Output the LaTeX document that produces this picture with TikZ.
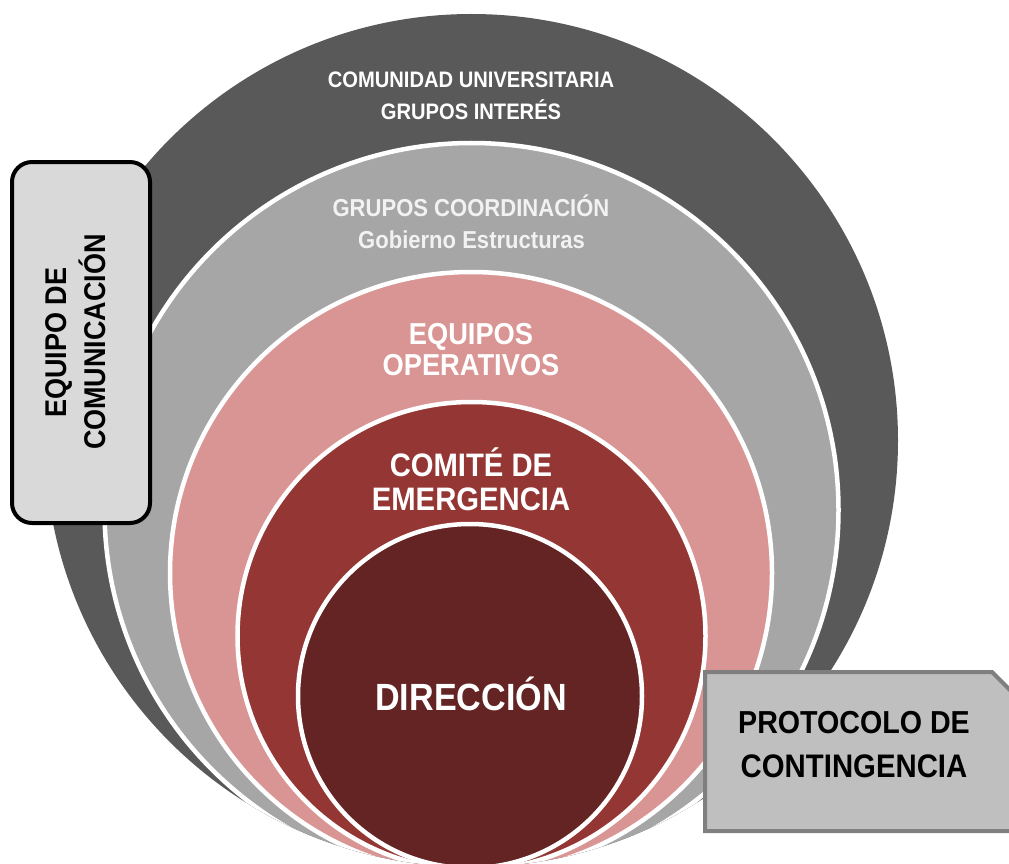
\documentclass[tikz,border=0pt]{standalone}
\usepackage{fontspec}
\setmainfont{Liberation Sans}[FakeStretch=0.9]
\definecolor{ringA}{HTML}{595959}
\definecolor{ringB}{HTML}{A6A6A6}
\definecolor{ringC}{HTML}{D99594}
\definecolor{ringD}{HTML}{943634}
\definecolor{ringE}{HTML}{632423}
\definecolor{boxL}{HTML}{D9D9D9}
\definecolor{boxR}{HTML}{BFBFBF}
\definecolor{boxRline}{HTML}{7F7F7F}
\newcommand\fsz[1]{\fontsize{#1}{#1}\selectfont\bfseries}
\begin{document}
\begin{tikzpicture}[x=1pt,y=-1pt,
  ring/.style={circle, inner sep=0pt, outer sep=0pt, draw=white, line width=4.5pt},
  lbl/.style={anchor=base, inner sep=0pt, text=white},
  blbl/.style={anchor=base, inner sep=0pt, text=black}]
\useasboundingbox (0,0) rectangle (1009,864);
\clip (0,0) rectangle (1009,864);
% outer ring
\node[circle, inner sep=0pt, fill=ringA, minimum size=853pt] (r1) at (471.5,440.5) {};
\begin{scope}
\clip (471.5,440.5) circle[radius=426.5pt];
\node[ring, fill=ringB, minimum size=734pt] (r2) at (471.5,510) {};
\node[ring, fill=ringC, minimum size=602pt] (r3) at (471,573) {};
\node[ring, fill=ringD, minimum size=468pt] (r4) at (471.5,636) {};
\node[ring, fill=ringE, minimum size=344pt] (r5) at (470,696) {};
\end{scope}
% ring labels
\node[lbl, font=\fsz{22.4}] (t1) at (471,88) {COMUNIDAD UNIVERSITARIA};
\node[lbl, font=\fsz{22.4}] (t2) at (471,120) {GRUPOS INTERÉS};
\node[lbl, font=\fsz{24.5}, text=white!95!black] (t3) at (471,216.5) {GRUPOS COORDINACIÓN};
\node[lbl, font=\fsz{24.5}, text=white!95!black] (t4) at (471.5,248.5) {Gobierno Estructuras};
\node[lbl, font=\fsz{30.3}] (t5) at (471,344.5) {EQUIPOS};
\node[lbl, font=\fsz{30.3}] (t6) at (471,375.5) {OPERATIVOS};
\node[lbl, font=\fsz{32.5}] (t7) at (471,476.5) {COMITÉ DE};
\node[lbl, font=\fsz{32.5}] (t8) at (471,510.5) {EMERGENCIA};
\node[lbl, font=\fsz{37.9}] (t9) at (471,710.5) {DIRECCIÓN};
% left box
\node[draw=black, line width=4pt, fill=boxL, rounded corners=20pt, minimum width=138pt, minimum height=361pt, inner sep=0pt] (lb) at (81,342.5) {};
\node[blbl, rotate=90, font=\fsz{30}] (lb1) at (66,342.5) {EQUIPO DE};
\node[blbl, rotate=90, font=\fsz{30}] (lb2) at (105,342) {COMUNICACIÓN};
% right box
\draw[draw=boxRline, line width=4pt, fill=boxR, line join=miter]
  (705,672) -- (992,672) -- (1013,693) -- (1013,831) -- (705,831) -- cycle;
\node[blbl, font=\fsz{31.8}] (rb1) at (854,733) {PROTOCOLO DE};
\node[blbl, font=\fsz{32.6}] (rb2) at (854,777) {CONTINGENCIA};
\end{tikzpicture}
\end{document}
